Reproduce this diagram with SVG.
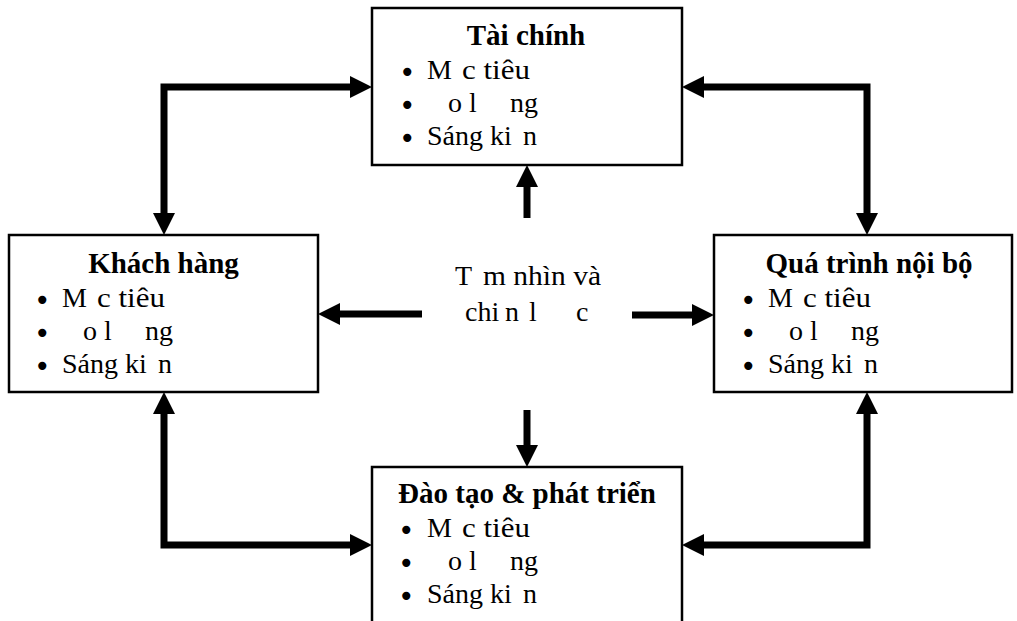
<svg xmlns="http://www.w3.org/2000/svg" width="1017" height="621" viewBox="0 0 1017 621">
<style>
.box{fill:#fff;stroke:#000;stroke-width:2.5}
.t{font-family:"Liberation Serif","Times New Roman",serif;font-weight:bold;font-size:29px;fill:#000;text-anchor:middle}
.b{font-family:"Liberation Serif","Times New Roman",serif;font-size:28px;fill:#000;white-space:pre}
.d{font-family:"DejaVu Sans",sans-serif;font-size:28px;fill:#000}
.c{font-family:"Liberation Serif","Times New Roman",serif;font-size:28px;fill:#000}
.arr{fill:none;stroke:#000;stroke-width:7;stroke-linejoin:miter;stroke-linecap:butt}
.two{marker-start:url(#ah);marker-end:url(#ah)}
.one{marker-end:url(#ah)}
</style>
<defs>
<marker id="ah" markerUnits="strokeWidth" markerWidth="3.3" markerHeight="3.3" refX="0" refY="1.57" orient="auto-start-reverse" overflow="visible">
<path d="M0,0 L3.14,1.57 L0,3.14 Z" fill="#000"/>
</marker>
</defs>
<rect width="1017" height="621" fill="#fff"/>
<g id="connectors">
<path class="arr two" d="M164,213 V87 H350"/>
<path class="arr two" d="M704,87 H867 V213"/>
<path class="arr two" d="M164,414 V545 H350"/>
<path class="arr two" d="M867,414 V545 H704"/>
<path class="arr one" d="M527,218 V187"/>
<path class="arr one" d="M527,410 V445"/>
<path class="arr one" d="M422,314 H340"/>
<path class="arr one" d="M632,315 H692"/>
</g>
<g id="tai-chinh">
<rect class="box" x="372" y="8" width="310" height="157"/>
<text class="t" x="526" y="45">Tài chính</text>
<text class="d" x="399" y="82">•</text>
<text class="b" y="79"><tspan x="427">M</tspan><tspan x="462" textLength="68" lengthAdjust="spacingAndGlyphs">c tiêu</tspan></text>
<text class="d" x="399" y="115">•</text>
<text class="b" y="112"><tspan x="448">o</tspan><tspan x="469">l</tspan><tspan x="510">ng</tspan></text>
<text class="d" x="399" y="148">•</text>
<text class="b" y="145"><tspan x="427">Sáng ki</tspan><tspan x="523">n</tspan></text>
</g>
<g id="khach-hang">
<rect class="box" x="9" y="235" width="309" height="157"/>
<text class="t" x="163.5" y="273">Khách hàng</text>
<text class="d" x="34" y="310">•</text>
<text class="b" y="307"><tspan x="62">M</tspan><tspan x="97" textLength="68" lengthAdjust="spacingAndGlyphs">c tiêu</tspan></text>
<text class="d" x="34" y="343">•</text>
<text class="b" y="340"><tspan x="83">o</tspan><tspan x="104">l</tspan><tspan x="145">ng</tspan></text>
<text class="d" x="34" y="376">•</text>
<text class="b" y="373"><tspan x="62">Sáng ki</tspan><tspan x="158">n</tspan></text>
</g>
<g id="qua-trinh-noi-bo">
<rect class="box" x="714" y="235" width="298" height="157"/>
<text class="t" x="869" y="273">Quá trình nội bộ</text>
<text class="d" x="740" y="310">•</text>
<text class="b" y="307"><tspan x="768">M</tspan><tspan x="803" textLength="68" lengthAdjust="spacingAndGlyphs">c tiêu</tspan></text>
<text class="d" x="740" y="343">•</text>
<text class="b" y="340"><tspan x="789">o</tspan><tspan x="810">l</tspan><tspan x="851">ng</tspan></text>
<text class="d" x="740" y="376">•</text>
<text class="b" y="373"><tspan x="768">Sáng ki</tspan><tspan x="864">n</tspan></text>
</g>
<g id="dao-tao-phat-trien">
<rect class="box" x="372" y="467" width="310" height="200"/>
<text class="t" x="527" y="503">Đào tạo &amp; phát triển</text>
<text class="d" x="398" y="540">•</text>
<text class="b" y="537"><tspan x="427">M</tspan><tspan x="462" textLength="68" lengthAdjust="spacingAndGlyphs">c tiêu</tspan></text>
<text class="d" x="398" y="573">•</text>
<text class="b" y="570"><tspan x="448">o</tspan><tspan x="469">l</tspan><tspan x="510">ng</tspan></text>
<text class="d" x="398" y="606">•</text>
<text class="b" y="603"><tspan x="427">Sáng ki</tspan><tspan x="523">n</tspan></text>
</g>
<g id="tam-nhin">
<text class="c" y="285"><tspan x="455">T</tspan><tspan x="483" textLength="118" lengthAdjust="spacingAndGlyphs">m nhìn và</tspan></text>
<text class="c" y="321"><tspan x="465">chi</tspan><tspan x="505">n</tspan><tspan x="529">l</tspan><tspan x="576">c</tspan></text>
</g>
</svg>
